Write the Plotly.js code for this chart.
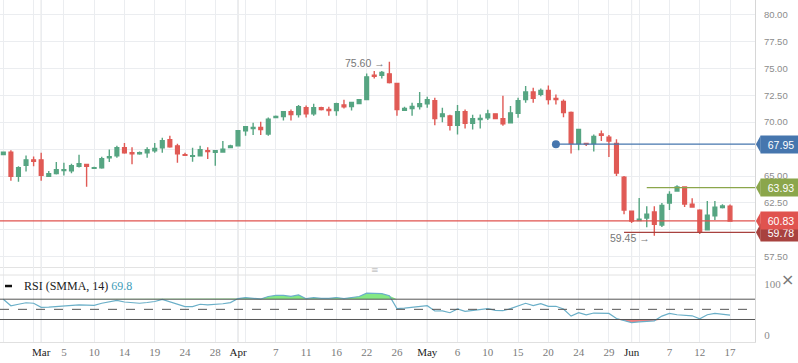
<!DOCTYPE html>
<html><head><meta charset="utf-8">
<script src="https://cdn.plot.ly/plotly-3.0.1.min.js"></script>
<style>html,body{margin:0;padding:0;background:#fff}#chart{width:798px;height:363px}</style>
</head><body><div id="chart"></div><script>
// ---- data ----
const dates = ['2019-02-24','2019-02-25','2019-02-26','2019-02-27','2019-02-28','2019-03-01','2019-03-03','2019-03-04','2019-03-05','2019-03-06','2019-03-07','2019-03-08','2019-03-10','2019-03-11','2019-03-12','2019-03-13','2019-03-14','2019-03-15','2019-03-17','2019-03-18','2019-03-19','2019-03-20','2019-03-21','2019-03-22','2019-03-24','2019-03-25','2019-03-26','2019-03-27','2019-03-28','2019-03-29','2019-03-31','2019-04-01','2019-04-02','2019-04-03','2019-04-04','2019-04-05','2019-04-07','2019-04-08','2019-04-09','2019-04-10','2019-04-11','2019-04-12','2019-04-14','2019-04-15','2019-04-16','2019-04-17','2019-04-18','2019-04-21','2019-04-22','2019-04-23','2019-04-24','2019-04-25','2019-04-26','2019-04-28','2019-04-29','2019-04-30','2019-05-01','2019-05-02','2019-05-03','2019-05-05','2019-05-06','2019-05-07','2019-05-08','2019-05-09','2019-05-10','2019-05-12','2019-05-13','2019-05-14','2019-05-15','2019-05-16','2019-05-17','2019-05-19','2019-05-20','2019-05-21','2019-05-22','2019-05-23','2019-05-24','2019-05-26','2019-05-27','2019-05-28','2019-05-29','2019-05-30','2019-05-31','2019-06-02','2019-06-03','2019-06-04','2019-06-05','2019-06-06','2019-06-07','2019-06-09','2019-06-10','2019-06-11','2019-06-12','2019-06-13','2019-06-14','2019-06-16','2019-06-17'];
const open  = [67.0,67.22,64.97,65.99,66.5,66.5,64.97,65.22,65.5,65.49,65.9,66.08,65.71,65.77,66.7,66.88,67.62,67.16,67.07,67.16,67.34,67.62,68.36,67.8,66.98,66.83,66.88,67.34,67.19,67.22,67.65,67.8,69.2,69.4,69.5,68.9,70.43,70.52,70.96,70.71,71.33,70.77,71.33,71.17,71.07,71.6,71.45,71.73,72.1,74.35,74.35,74.48,73.58,71.1,71.26,71.45,71.7,71.98,70.52,70.58,69.7,70.96,69.88,70.25,70.4,70.77,70.31,69.94,70.83,72.1,72.8,72.59,72.93,72.19,71.91,70.9,68.02,68.02,68.02,68.9,68.61,68.02,64.88,61.73,60.86,61.11,61.67,60.46,62.5,63.61,63.98,62.38,61.82,60.0,61.3,62.07,62.19];
const high  = [67.25,67.4,65.9,66.9,66.8,67.16,65.46,66.3,66.23,66.14,66.98,66.14,65.86,66.79,67.45,67.8,68.06,67.67,67.28,67.67,68.06,68.55,68.73,67.99,67.16,67.62,67.8,67.67,67.34,68.24,67.9,69.2,69.57,69.94,70.03,70.43,70.62,70.96,71.17,71.6,71.54,71.7,71.42,71.42,71.79,72.07,71.9,72.07,74.5,74.74,74.74,75.6,73.58,71.42,71.79,72.8,72.35,72.26,71.33,70.68,71.6,71.17,70.68,70.71,71.14,70.77,72.44,71.5,72.26,73.36,73.2,73.12,73.4,72.56,72.1,70.99,69.32,68.02,68.86,69.23,68.8,68.4,65.0,61.73,62.96,62.2,62.2,62.5,63.58,64.14,63.98,62.93,61.91,62.68,62.68,62.38,62.35];
const low   = [66.98,64.57,64.48,65.43,65.9,64.57,64.95,65.15,65.06,65.25,65.8,64.0,65.68,65.68,66.3,66.7,67.07,66.1,66.98,66.7,67.16,67.16,67.62,66.23,66.92,66.33,66.88,66.57,65.96,67.16,67.65,67.8,68.73,68.8,68.8,68.73,70.4,70.15,70.15,70.43,70.43,70.6,71.07,70.6,70.6,71.26,71.07,71.73,72.1,74.04,74.04,73.58,70.6,71.1,70.6,71.17,71.33,69.7,69.98,69.23,68.85,69.41,69.32,69.41,70.2,70.34,69.66,69.94,70.4,71.8,71.8,72.41,71.64,71.64,70.46,67.1,67.38,67.78,67.28,68.24,66.76,65.0,61.45,60.65,60.86,60.25,59.45,60.28,61.85,63.61,62.13,62.13,59.63,60.0,60.93,61.98,60.83];
const close = [67.22,64.97,65.77,66.5,66.36,65.06,65.22,65.59,65.59,65.96,66.14,65.9,65.77,66.6,66.8,67.62,67.16,67.07,67.16,67.44,67.56,68.27,67.7,67.07,66.92,66.88,67.44,67.28,67.34,67.5,67.8,69.2,69.57,69.5,69.3,70.28,70.52,70.96,70.71,71.42,70.77,71.33,71.17,71.07,71.7,71.42,71.82,72.07,74.2,74.26,74.6,73.68,71.17,71.26,71.45,71.7,72.07,70.34,70.77,69.7,70.96,69.88,70.31,70.34,70.77,70.34,69.85,70.86,71.98,72.8,72.2,72.93,72.1,72.1,70.9,68.02,69.32,67.96,68.67,68.77,68.24,65.28,61.85,60.83,60.99,61.45,60.52,62.28,63.3,63.98,62.41,62.13,59.85,61.36,62.1,62.22,60.83];
const rsi   = [70,57,60,63,62,54,54.5,55.5,56.5,57.5,59,58.5,58,62,64,67.5,64.5,63.5,62,63.5,65.5,69.5,65,59,55.5,55.3,60,58.7,59.5,61,63.3,71.3,73,72,70.5,75.3,77.5,77.5,75.5,78.5,71,73,71.5,71.5,73.3,71.3,73.3,75.3,82,82,81,77,51.5,52.5,54,55.5,57.3,46.7,47,43.3,50.7,46,47.5,49.5,51.3,48,47.3,51.3,56,62,57.3,61.3,56,56,50.7,36.7,43.3,39.3,42.7,42.3,42,32,28,24,25.3,26,27.3,36.7,42,39.3,38,37.3,31.3,39.3,42,40,38.7];
const rsiLevels = [70, 50, 30];
const rsiTicks = [0, 100];
const priceTicks  = [57.5, 60, 62.5, 65, 67.5, 70, 72.5, 75, 77.5, 80];
const priceLabels = ['57.50', '', '62.50', '65.00', '', '70.00', '72.50', '75.00', '77.50', '80.00'];
const gridDates  = ['2019-02-24','2019-02-28','2019-03-01','2019-03-05','2019-03-10','2019-03-14','2019-03-19','2019-03-24','2019-03-28','2019-04-01','2019-04-02','2019-04-07','2019-04-11','2019-04-16','2019-04-22','2019-04-26','2019-05-01','2019-05-06','2019-05-10','2019-05-15','2019-05-20','2019-05-24','2019-05-29','2019-06-02','2019-06-03','2019-06-07','2019-06-12','2019-06-17'];
const gridLabels = ['','','Mar','5','10','14','19','24','28','Apr','','7','11','16','22','26','May','6','10','15','20','24','29','Jun','','7','12','17'];
const monthDates = ['2019-03-01','2019-04-01','2019-05-01','2019-06-02'];
const levelValues = [67.95, 63.93, 59.78, 60.83];
const levelLabels = ['67.95','63.93','59.78','60.83'];
const levelStart  = ['2019-05-21','2019-06-04','2019-05-31',null];
const levelColors = ['#4676ae','#8ba64b','#a8423f','#e0534f'];
const markDates  = ['2019-04-25','2019-06-05'];
const markValues = [75.60, 59.45];

// ---- build ----
const G = '#56a582', R = '#e05a55';
const idx = d => dates.indexOf(d);
const traces = [];
traces.push({type:'candlestick', x:dates, open:open, high:high, low:low, close:close, xaxis:'x', yaxis:'y',
  increasing:{line:{color:G,width:1.4}, fillcolor:G}, decreasing:{line:{color:R,width:1.4}, fillcolor:R}, hoverinfo:'skip'});
traces.push({type:'scatter', mode:'markers', x:[levelStart[0]], y:[levelValues[0]], xaxis:'x', yaxis:'y',
  marker:{color:levelColors[0], size:8}, hoverinfo:'skip'});
traces.push({type:'scatter', mode:'lines', x:dates, y:dates.map(()=>rsiLevels[0]), xaxis:'x2', yaxis:'y2', line:{width:0}, hoverinfo:'skip'});
traces.push({type:'scatter', mode:'lines', x:dates, y:rsi.map(v=>Math.max(v,rsiLevels[0])), xaxis:'x2', yaxis:'y2', line:{width:0}, fill:'tonexty', fillcolor:'#84e884', hoverinfo:'skip'});
traces.push({type:'scatter', mode:'lines', x:dates, y:dates.map(()=>rsiLevels[2]), xaxis:'x2', yaxis:'y2', line:{width:0}, hoverinfo:'skip'});
traces.push({type:'scatter', mode:'lines', x:dates, y:rsi.map(v=>Math.min(v,rsiLevels[2])), xaxis:'x2', yaxis:'y2', line:{width:0}, fill:'tonexty', fillcolor:'#ef8080', hoverinfo:'skip'});
traces.push({type:'scatter', mode:'lines', x:dates, y:rsi, xaxis:'x2', yaxis:'y2', line:{color:'#6aafc8', width:1.2}, hoverinfo:'skip'});

const shapes = [];
monthDates.forEach(d => shapes.push({type:'line', xref:'x', yref:'paper', x0:idx(d), x1:idx(d), y0:0, y1:1, line:{color:'#d9d9d9', width:1}, layer:'between'}));
rsiLevels.forEach((v,i) => shapes.push({type:'line', xref:'paper', yref:'y2', x0:0, x1:1, y0:v, y1:v, line:{color:'#555', width:1, dash: i===1 ? 'dash' : 'solid'}}));
shapes.push({type:'line', xref:'paper', yref:'y2', x0:0, x1:1, y0:117.7, y1:117.7, line:{color:'#e2e2e2', width:1}});
shapes.push({type:'line', xref:'paper', yref:'y2', x0:5/755, x1:12/755, y0:96, y1:96, line:{color:'#111', width:2.5}});
const annotations = [];
[0,1,2,3].forEach(i => {
  const v = levelValues[i], c = levelColors[i], h = 0.8;
  const x0 = levelStart[i] ? idx(levelStart[i]) : -2;
  shapes.push({type:'line', xref:'x', yref:'y', x0:x0, x1:101, y0:v, y1:v, line:{color:c, width:1.2}, layer:'above'});
  shapes.push({type:'path', xref:'paper', yref:'y', layer:'above', fillcolor:c, line:{width:0},
    path:`M 1.0012 ${v} L 1.0075 ${v+h} L 1.0075 ${v-h} Z`});
  annotations.push({xref:'paper', yref:'y', x:1.0066, y:v, text:levelLabels[i], showarrow:false, xanchor:'left', yanchor:'middle',
    width:40, height:17, borderpad:0, bgcolor:c, align:'center',
    font:{family:'Liberation Sans', size:10.5, color:'#fff'}});
});
markDates.forEach((d,i) => annotations.push({xref:'x', yref:'y', x:idx(d), y:markValues[i], text:markValues[i].toFixed(2)+' →',
  showarrow:false, xanchor:'right', yanchor:'middle', xshift:-2, yshift: i===0 ? -1 : -2, font:{family:'Liberation Sans', size:10.5, color:'#777'}}));
annotations.push({xref:'paper', yref:'y2', x:22/755, y:96, xanchor:'left', yanchor:'middle', showarrow:false,
  text:'RSI (SMMA, 14) <span style="color:#3d9cb8">69.8</span>', font:{family:'Liberation Serif', size:12, color:'#222'}});
annotations.push({xref:'paper', yref:'paper', x:375/755, y:(342-270)/342, xanchor:'center', yanchor:'middle', showarrow:false,
  text:'≡', font:{family:'DejaVu Sans', size:9, color:'#c4c4c4'}});
annotations.push({xref:'paper', yref:'paper', x:788/755, y:(342-279)/342, xanchor:'center', yanchor:'middle', showarrow:false,
  text:'×', font:{family:'DejaVu Sans', size:16, color:'#777'}});

const tickText = gridLabels.map(t => /^[A-Z]/.test(t) ? '<span style="color:#1a1a1a">'+t+'</span>' : t);
const xCommon = {type:'category', categoryorder:'array', categoryarray:dates, range:[-0.44, 99.3], tickmode:'array', tickvals:gridDates,
  ticks:'', showgrid:true, gridcolor:'#ebedf0', gridwidth:1, zeroline:false, fixedrange:true};
const layout = {
  width:798, height:363, margin:{l:0, r:43, t:0, b:21}, paper_bgcolor:'#fff', plot_bgcolor:'#fff', showlegend:false,
  xaxis: Object.assign({}, xCommon, {anchor:'y', showticklabels:false, showline:true, linecolor:'#e3e3e3', rangeslider:{visible:false}}),
  xaxis2: Object.assign({}, xCommon, {anchor:'y2', matches:'x', ticktext:tickText, showline:true, linecolor:'#e0e0e0',
    tickfont:{family:'Liberation Serif', size:11, color:'#7a7a7a'}}),
  yaxis: {domain:[0.2193, 1], range:[56.56, 81.33], side:'right', anchor:'x', tickmode:'array', tickvals:priceTicks, ticktext:priceLabels,
    tickfont:{family:'Liberation Sans', size:9.5, color:'#8c8c8c'}, gridcolor:'#ebedf0', showline:true, linecolor:'#d6d6d6',
    zeroline:false, ticks:'', ticklabelstandoff:6, fixedrange:true},
  yaxis2: {domain:[0, 0.2193], range:[-14.4, 133.5], side:'right', anchor:'x2', tickmode:'array', tickvals:rsiTicks,
    tickfont:{family:'Liberation Serif', size:11, color:'#8c8c8c'}, showgrid:false, showline:true, linecolor:'#d6d6d6',
    zeroline:false, ticks:'', ticklabelstandoff:6, fixedrange:true},
  shapes: shapes, annotations: annotations
};
Plotly.newPlot('chart', traces, layout, {staticPlot:true, displayModeBar:false});
</script></body></html>
